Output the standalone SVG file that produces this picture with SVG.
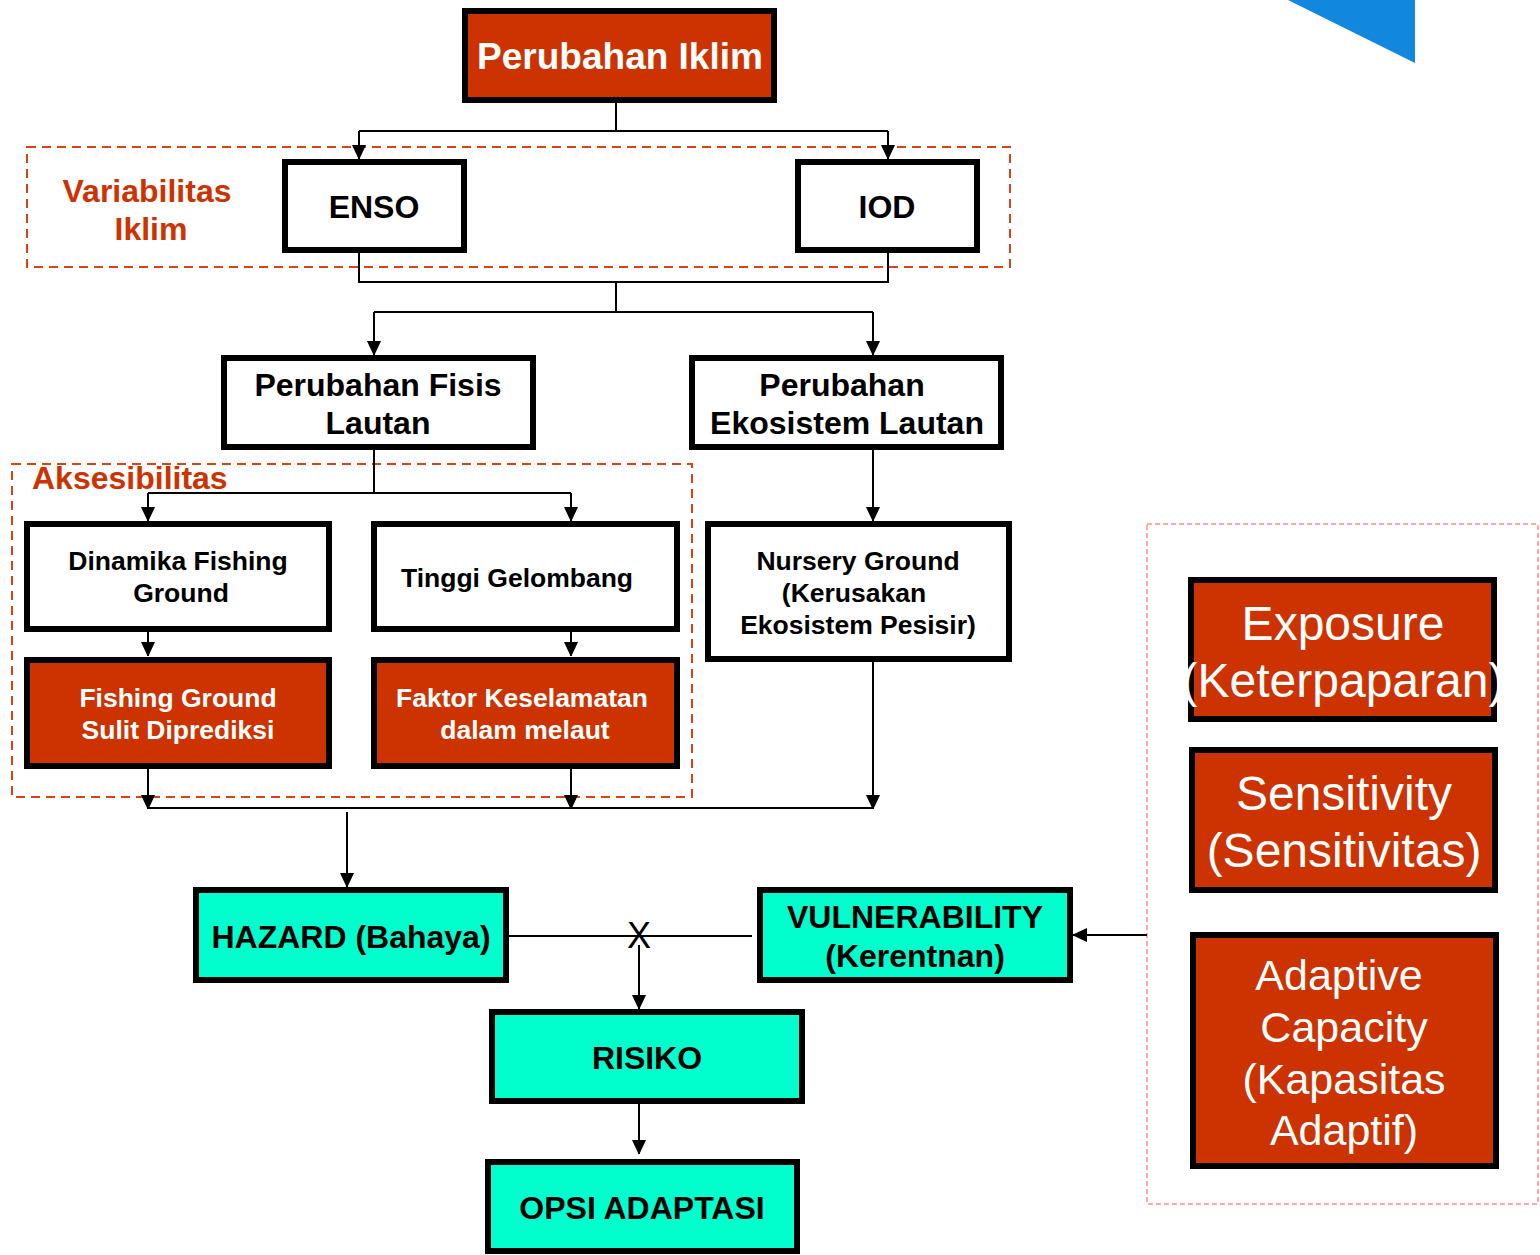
<svg xmlns="http://www.w3.org/2000/svg" width="1540" height="1255" viewBox="0 0 1540 1255">
<defs>
<marker id="ah" markerWidth="14" markerHeight="16" refX="14" refY="7" orient="auto" markerUnits="userSpaceOnUse">
<path d="M0,0 L15,7 L0,14 Z" fill="#000"/>
</marker>
<style>
.red{fill:#CC3300;stroke:#000;stroke-width:6}
.wht{fill:#fff;stroke:#000;stroke-width:6}
.cy{fill:#00FFCC;stroke:#000;stroke-width:6}
.b{font-family:"Liberation Sans",Arial,sans-serif;font-weight:bold;text-anchor:middle}
.n{font-family:"Liberation Sans",Arial,sans-serif;text-anchor:middle}
.k{fill:#000}
.w{fill:#fff}
.o{fill:#CC3300}
.ln{fill:none;stroke:#000;stroke-width:2}
.ar{fill:none;stroke:#000;stroke-width:2;marker-end:url(#ah)}
.dash{fill:none;stroke:#D84315;stroke-width:2;stroke-dasharray:9,6}
.dash2{fill:none;stroke:#FF5555;stroke-width:1;stroke-dasharray:5,3}
</style>
</defs>
<rect width="1540" height="1255" fill="#fff"/>
<polygon points="1288,0 1415,0 1415,63" fill="#1188DD"/>

<g id="groups">
<rect class="dash" x="27" y="147" width="983" height="120"/>
<rect class="dash" x="12" y="464" width="680" height="333"/>
<rect class="dash2" x="1147" y="524" width="391" height="680"/>
<text class="b o" x="147" y="202" font-size="32">Variabilitas</text>
<text class="b o" x="151" y="240" font-size="32">Iklim</text>
<text class="b o" x="32" y="489" font-size="32" style="text-anchor:start">Aksesibilitas</text>
</g>

<g id="connectors">
<polyline class="ln" points="616,101 616,131"/>
<polyline class="ln" points="359,131 888,131"/>
<polyline class="ar" points="359,131 359,159"/>
<polyline class="ar" points="888,131 888,159"/>
<polyline class="ln" points="359,252 359,282 888,282 888,252"/>
<polyline class="ln" points="616,282 616,312"/>
<polyline class="ln" points="374,312 873,312"/>
<polyline class="ar" points="374,312 374,355"/>
<polyline class="ar" points="873,312 873,355"/>
<polyline class="ln" points="374,449 374,493"/>
<polyline class="ln" points="148,493 571,493"/>
<polyline class="ar" points="148,493 148,521"/>
<polyline class="ar" points="571,493 571,521"/>
<polyline class="ar" points="148,631 148,656"/>
<polyline class="ar" points="571,631 571,656"/>
<polyline class="ar" points="873,449 873,521"/>
<polyline class="ar" points="148,768 148,809"/>
<polyline class="ar" points="571,768 571,809"/>
<polyline class="ar" points="873,661 873,809"/>
<polyline class="ln" points="148,808 873,808"/>
<polyline class="ar" points="347,812 347,887"/>
<polyline class="ln" points="508,936 752,936"/>
<polyline class="ar" points="639,945 639,1009"/>
<polyline class="ar" points="1147,935 1073,935"/>
<polyline class="ar" points="639,1103 639,1154"/>
<text class="n k" x="639" y="948" font-size="36">X</text>
</g>

<g id="n-iklim"><rect class="red" x="465" y="11" width="309" height="89"/><text class="b w" x="620" y="69" font-size="37">Perubahan Iklim</text></g>
<g id="n-enso"><rect class="wht" x="285" y="162" width="179" height="88"/><text class="b k" x="374" y="218" font-size="32">ENSO</text></g>
<g id="n-iod"><rect class="wht" x="798" y="162" width="179" height="88"/><text class="b k" x="887" y="218" font-size="32">IOD</text></g>
<g id="n-fisis"><rect class="wht" x="224" y="358" width="309" height="89"/><text class="b k" x="378" y="396" font-size="32">Perubahan Fisis</text><text class="b k" x="378" y="434" font-size="32">Lautan</text></g>
<g id="n-eko"><rect class="wht" x="692" y="358" width="309" height="89"/><text class="b k" x="842" y="396" font-size="32">Perubahan</text><text class="b k" x="847" y="434" font-size="32">Ekosistem Lautan</text></g>
<g id="n-dinamika"><rect class="wht" x="27" y="524" width="302" height="105"/><text class="b k" x="178" y="570" font-size="26.5">Dinamika Fishing</text><text class="b k" x="181" y="602" font-size="26.5">Ground</text></g>
<g id="n-tinggi"><rect class="wht" x="374" y="524" width="303" height="105"/><text class="b k" x="517" y="587" font-size="26.5">Tinggi Gelombang</text></g>
<g id="n-fg"><rect class="red" x="27" y="660" width="302" height="106"/><text class="b w" x="178" y="707" font-size="26.5">Fishing Ground</text><text class="b w" x="178" y="739" font-size="26.5">Sulit Diprediksi</text></g>
<g id="n-faktor"><rect class="red" x="374" y="660" width="303" height="106"/><text class="b w" x="522" y="707" font-size="26.5">Faktor Keselamatan</text><text class="b w" x="525" y="739" font-size="26.5">dalam melaut</text></g>
<g id="n-nursery"><rect class="wht" x="708" y="524" width="301" height="135"/><text class="b k" x="858" y="570" font-size="26.5">Nursery Ground</text><text class="b k" x="854" y="602" font-size="26.5">(Kerusakan</text><text class="b k" x="858" y="634" font-size="26.5">Ekosistem Pesisir)</text></g>
<g id="n-hazard"><rect class="cy" x="196" y="890" width="310" height="90"/><text class="b k" x="351" y="948" font-size="32">HAZARD (Bahaya)</text></g>
<g id="n-vuln"><rect class="cy" x="760" y="890" width="310" height="90"/><text class="b k" x="915" y="928" font-size="32">VULNERABILITY</text><text class="b k" x="915" y="967" font-size="32">(Kerentnan)</text></g>
<g id="n-risiko"><rect class="cy" x="492" y="1012" width="310" height="89"/><text class="b k" x="647" y="1069" font-size="32">RISIKO</text></g>
<g id="n-opsi"><rect class="cy" x="488" y="1162" width="309" height="89"/><text class="b k" x="642" y="1219" font-size="32">OPSI ADAPTASI</text></g>
<g id="n-exposure"><rect class="red" x="1191" y="580" width="303" height="139"/><text class="n w" x="1343" y="640" font-size="48">Exposure</text><text class="n w" x="1343" y="697" font-size="48">(Keterpaparan)</text></g>
<g id="n-sens"><rect class="red" x="1192" y="750" width="303" height="140"/><text class="n w" x="1344" y="810" font-size="48">Sensitivity</text><text class="n w" x="1344" y="867" font-size="48">(Sensitivitas)</text></g>
<g id="n-adapt"><rect class="red" x="1193" y="935" width="303" height="231"/><text class="n w" x="1339" y="990" font-size="43">Adaptive</text><text class="n w" x="1344" y="1042" font-size="43">Capacity</text><text class="n w" x="1344" y="1094" font-size="43">(Kapasitas</text><text class="n w" x="1344" y="1145" font-size="43">Adaptif)</text></g>
</svg>
